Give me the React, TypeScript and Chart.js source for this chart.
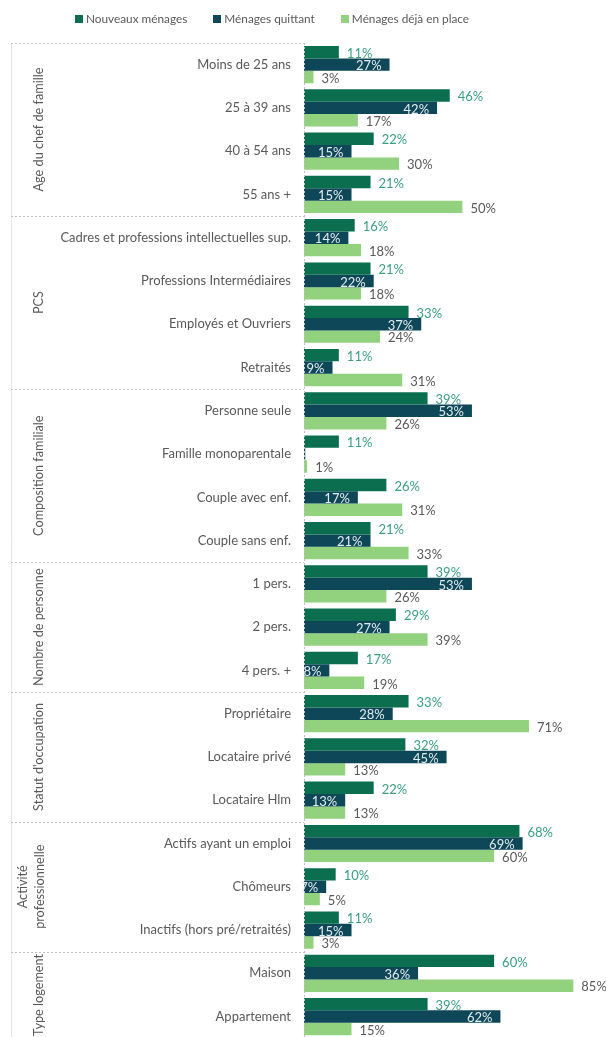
import React, { useEffect, useRef } from "react";
import { Chart, registerables } from "chart.js";

Chart.register(...registerables);

const categories = [
  "Moins de 25 ans", "25 à 39 ans", "40 à 54 ans", "55 ans +",
  "Cadres et professions intellectuelles sup.", "Professions Intermédiaires", "Employés et Ouvriers", "Retraités",
  "Personne seule", "Famille monoparentale", "Couple avec enf.", "Couple sans enf.",
  "1 pers.", "2 pers.", "4 pers. +",
  "Propriétaire", "Locataire privé", "Locataire Hlm",
  "Actifs ayant un emploi", "Chômeurs", "Inactifs (hors pré/retraités)",
  "Maison", "Appartement",
];

const nouveauxMenages = [11, 46, 22, 21, 16, 21, 33, 11, 39, 11, 26, 21, 39, 29, 17, 33, 32, 22, 68, 10, 11, 60, 39];
const menagesQuittant = [27, 42, 15, 15, 14, 22, 37, 9, 53, 0.4, 17, 21, 53, 27, 8, 28, 45, 13, 69, 7, 15, 36, 62];
const menagesDejaEnPlace = [3, 17, 30, 50, 18, 18, 24, 31, 26, 1, 31, 33, 26, 39, 19, 71, 13, 13, 60, 5, 3, 85, 15];

const seriesNames = ["Nouveaux ménages", "Ménages quittant", "Ménages déjà en place"];
const seriesColors = ["#0b6e4f", "#0d4758", "#92d27f"];
const labelColors = ["#3a9e7e", "#e4ecee", "#595959"];

const groupNames: string[][] = [
  ["Age du chef de famille"],
  ["PCS"],
  ["Composition familiale"],
  ["Nombre de personne"],
  ["Statut d'occupation"],
  ["Activité", "professionnelle"],
  ["Type logement"],
];
const groupSizes = [4, 4, 4, 3, 3, 3, 2];

const FONT = "Lato, 'Liberation Sans', sans-serif";
const W = 606;
const H = 1059;

const groupPlugin = {
  id: "groupDecor",
  afterDraw(chart: any) {
    const { ctx, chartArea } = chart;
    const y = chart.scales.y;
    const n = categories.length;
    const step = (chartArea.bottom - chartArea.top) / n;
    ctx.save();
    ctx.strokeStyle = "#e4e4e4";
    ctx.lineWidth = 1;
    ctx.beginPath();
    ctx.moveTo(11.5, chartArea.top);
    ctx.lineTo(11.5, chartArea.bottom);
    ctx.stroke();
    ctx.strokeStyle = "#bfbfbf";
    ctx.setLineDash([2, 2]);
    ctx.beginPath();
    ctx.moveTo(chartArea.left + 0.5, chartArea.top);
    ctx.lineTo(chartArea.left + 0.5, chartArea.bottom);
    ctx.stroke();
    let idx = 0;
    const bounds: number[] = [];
    groupSizes.forEach((s) => {
      bounds.push(y.getPixelForValue(idx) - step / 2);
      idx += s;
    });
    bounds.push(y.getPixelForValue(idx - 1) + step / 2);
    bounds.forEach((b) => {
      const yy = Math.round(b) + 0.5;
      ctx.beginPath();
      ctx.moveTo(11, yy);
      ctx.lineTo(chartArea.left, yy);
      ctx.stroke();
    });
    ctx.setLineDash([]);
    ctx.fillStyle = "#595959";
    ctx.font = "12.7px " + FONT;
    ctx.textAlign = "center";
    ctx.textBaseline = "middle";
    groupNames.forEach((lines, g) => {
      const cy = (bounds[g] + bounds[g + 1]) / 2;
      const xs = lines.length === 1 ? [39] : [23, 40];
      lines.forEach((line, li) => {
        ctx.save();
        ctx.translate(xs[li], cy);
        ctx.rotate(-Math.PI / 2);
        ctx.fillText(line, 0, 0);
        ctx.restore();
      });
    });
    ctx.restore();
  },
};

const labelPlugin = {
  id: "valueLabels",
  afterDatasetsDraw(chart: any) {
    const { ctx } = chart;
    ctx.save();
    ctx.font = "13px " + FONT;
    ctx.textBaseline = "middle";
    chart.data.datasets.forEach((ds: any, i: number) => {
      const meta = chart.getDatasetMeta(i);
      meta.data.forEach((el: any, j: number) => {
        const v = ds.data[j];
        if (v < 1) return;
        const txt = Math.round(v) + "%";
        ctx.fillStyle = labelColors[i];
        if (i === 1) {
          ctx.textAlign = "right";
          ctx.fillText(txt, el.x - 8, el.y + 1.5);
        } else {
          ctx.textAlign = "left";
          ctx.fillText(txt, el.x + 8, el.y + 1.5);
        }
      });
    });
    ctx.restore();
  },
};

function ChartCanvas() {
  const ref = useRef<HTMLCanvasElement | null>(null);
  useEffect(() => {
    if (!ref.current) return;
    const chart = new Chart(ref.current, {
      type: "bar",
      data: {
        labels: categories,
        datasets: [nouveauxMenages, menagesQuittant, menagesDejaEnPlace].map((d, i) => ({
          label: seriesNames[i],
          data: d,
          backgroundColor: seriesColors[i],
          borderWidth: 0,
          categoryPercentage: 0.86,
          barPercentage: 1.0,
        })),
      },
      options: {
        indexAxis: "y",
        animation: false,
        responsive: false,
        devicePixelRatio: 1,
        layout: { padding: { top: 43, bottom: 6, left: 0, right: 1 } },
        plugins: {
          legend: { display: false },
          tooltip: { enabled: false },
        },
        scales: {
          x: { display: false, min: 0, max: 95 },
          y: {
            grid: { display: false, drawTicks: false },
            border: { display: false },
            ticks: {
              color: "#595959",
              font: { family: FONT, size: 13 },
              padding: 13,
              autoSkip: false,
            },
            afterFit: (s: any) => {
              s.width = 304;
            },
          },
        },
      },
      plugins: [groupPlugin, labelPlugin],
    } as any);
    return () => chart.destroy();
  }, []);
  return (
    <canvas
      ref={ref}
      width={W}
      height={H}
      style={{ position: "absolute", left: 0, top: 0, width: W, height: H, display: "block" }}
    />
  );
}

export default function App() {
  return (
    <div style={{ position: "fixed", left: 0, top: 0, width: 606, height: 1037, overflow: "hidden", background: "#fff" }}>
      <ChartCanvas />
      <div
        style={{
          position: "absolute",
          left: 75,
          top: 11,
          display: "flex",
          gap: 26,
          fontFamily: FONT,
          fontSize: 11.8,
          color: "#595959",
          alignItems: "center",
        }}
      >
        {seriesNames.map((n, i) => (
          <div key={n} style={{ display: "flex", alignItems: "center", gap: 3 }}>
            <span style={{ display: "inline-block", width: 8, height: 8, background: seriesColors[i] }} />
            <span>{n}</span>
          </div>
        ))}
      </div>
    </div>
  );
}
